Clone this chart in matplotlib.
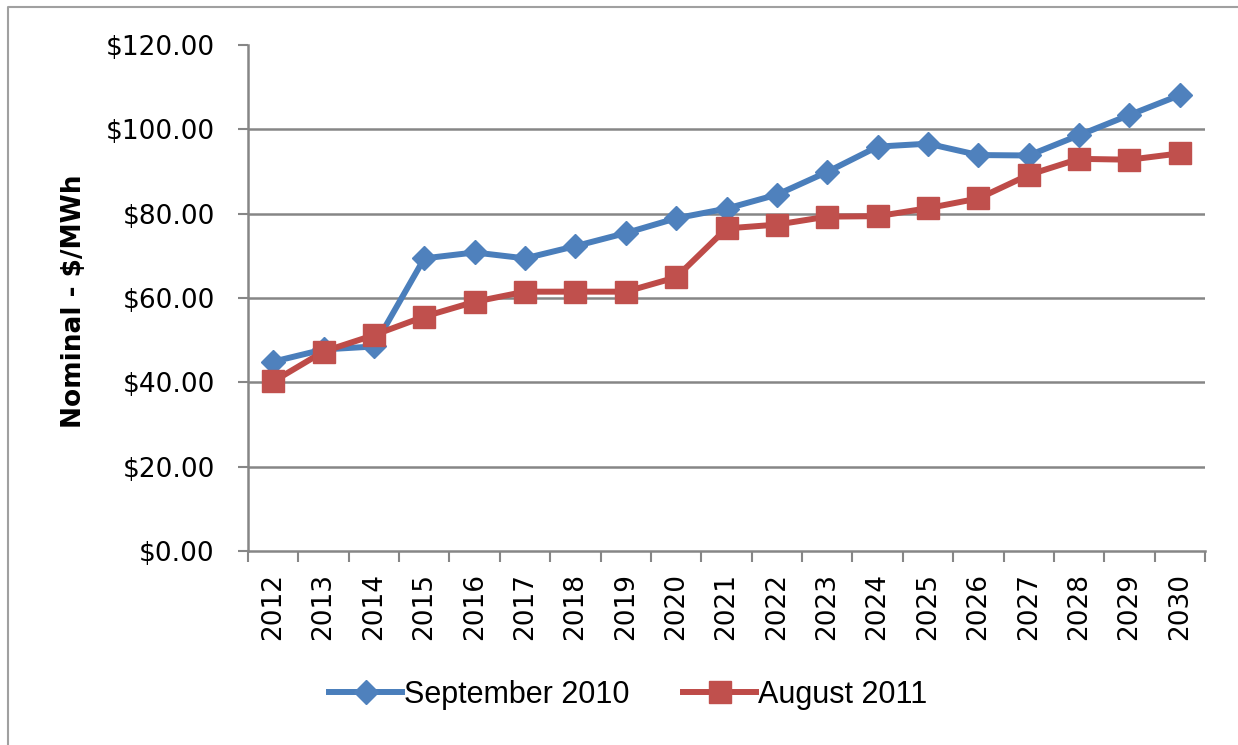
import matplotlib
matplotlib.use("Agg")
import matplotlib.pyplot as plt
from matplotlib.lines import Line2D

years = [str(y) for y in range(2012, 2031)]
sep_2010 = [44.9, 47.8, 48.5, 69.4, 70.8, 69.4, 72.3, 75.4, 78.9, 81.2, 84.5, 89.9,
            95.9, 96.6, 93.9, 93.8, 98.6, 103.4, 108.1]
aug_2011 = [40.2, 47.3, 51.2, 55.6, 59.1, 61.5, 61.5, 61.5, 64.9, 76.5, 77.4, 79.3,
            79.4, 81.3, 83.6, 89.2, 93.0, 92.8, 94.3]
yticks = [0, 20, 40, 60, 80, 100, 120]

plt.rcParams["font.family"] = ["DejaVu Sans"]

W, H = 1238, 745
fig = plt.figure(figsize=(W / 100, H / 100), dpi=100)
ax = fig.add_axes([248 / W, 1 - 551 / H, (1205 - 248) / W, (551 - 45) / H])

blue_line, blue_mark = "#4A7EBB", "#4F81BD"
red_line, red_mark = "#BE4B48", "#C0504D"
x = list(range(len(years)))
ax.plot(x, sep_2010, color=blue_line, lw=4.3, marker="D", ms=12,
        mfc=blue_mark, mec=blue_mark, label="September 2010", zorder=3)
ax.plot(x, aug_2011, color=red_line, lw=4.3, marker="s", ms=16,
        mfc=red_mark, mec=red_mark, label="August 2011", zorder=4)

ax.set_xlim(-0.5, len(years) - 0.5)
ax.set_ylim(0, 120)
ax.set_yticks(yticks)
ax.set_yticklabels([f"${v:.2f}" for v in yticks], fontsize=19, family="DejaVu Sans")
ax.set_xticks(x)
ax.set_xticklabels(years, rotation=90, fontsize=19, family="DejaVu Sans")
ax.set_xticks([i - 0.5 for i in range(len(years) + 1)], minor=True)
ax.tick_params(axis="x", which="major", length=0, pad=16)
ax.tick_params(axis="x", which="minor", length=8, width=1.5, color="#868686", direction="out")
ax.tick_params(axis="y", length=7, width=1.5, color="#868686", direction="out", pad=17)

for v in yticks[1:-1]:
    ax.axhline(v, color="#868686", lw=1.8, zorder=1)
for s in ["top", "right"]:
    ax.spines[s].set_visible(False)
for s in ["left", "bottom"]:
    ax.spines[s].set_color("#868686")
    ax.spines[s].set_linewidth(1.8)

fig.text(74 / W, 1 - 301 / H, "Nominal - $/MWh", rotation=90, fontsize=19,
         fontweight="bold", family="DejaVu Sans", ha="center", va="center")

fig.legend(loc="center", bbox_to_anchor=(628 / W, 1 - 695 / H), ncol=2, frameon=False,
           prop={"family": "Liberation Sans", "size": 22}, handlelength=2.4,
           handletextpad=0.05, columnspacing=1.75)

fig.add_artist(Line2D([8 / W, 8 / W, 1.0], [0, 1 - 7 / H, 1 - 7 / H],
                      transform=fig.transFigure, color="#A0A0A0", lw=1.5))

fig.savefig("out.png", dpi=100, facecolor="white")
